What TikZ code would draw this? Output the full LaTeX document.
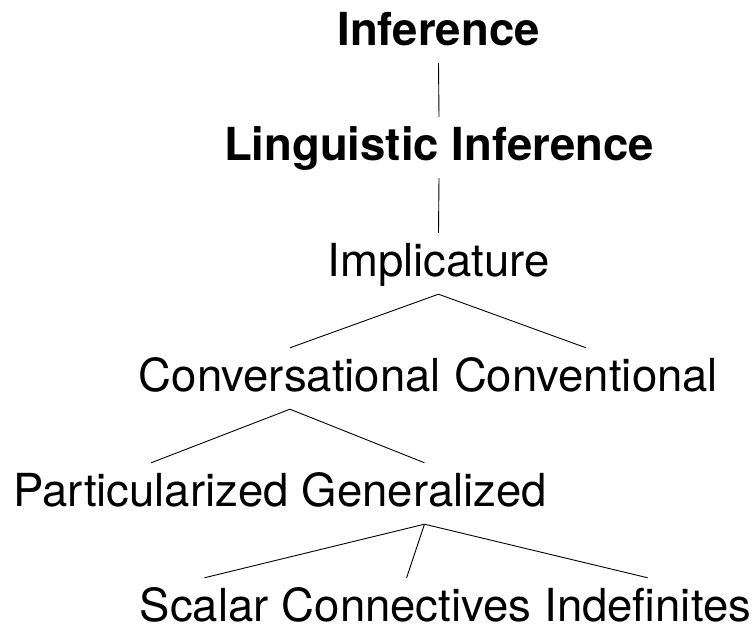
\documentclass[tikz,border=0pt]{standalone}
\usepackage{fontspec}
\setmainfont{TeX Gyre Heros}
\begin{document}
\begin{tikzpicture}[x=1pt,y=1pt,
  lbl/.style={inner xsep=0pt,inner ysep=0pt,text height=44pt,text depth=17pt,
    font=\fontsize{45.5}{50}\selectfont},
  lblb/.style={lbl,font=\fontsize{45.5}{50}\selectfont\bfseries},
  leaf/.style={lbl,text depth=0pt},
  edge/.style={draw=black,line width=0.9pt}]
\useasboundingbox (0,0) rectangle (756,626);
% rows
\node[lblb,anchor=base] (inf) at (438.5,580.3) {Inference};
\node[lblb,anchor=base] (ling) at (439,465) {Linguistic Inference};
\node[lbl,anchor=base] (impl) at (438.5,349) {Implicature};
\node[lbl,anchor=base west] (convs) at (138.7,234) {Conversational};
\node[lbl,anchor=base west] (convt) at ([xshift=12.65pt]convs.base east) {Conventional};
\node[lbl,anchor=base west] (part) at (13.1,119) {Particularized};
\node[lbl,anchor=base west] (gen) at ([xshift=12.65pt]part.base east) {Generalized};
\node[leaf,anchor=base west] (scal) at (139.7,4) {Scalar};
\node[leaf,anchor=base west] (conn) at ([xshift=12.65pt]scal.base east) {Connectives};
\node[leaf,anchor=base west] (indef) at ([xshift=12.65pt]conn.base east) {Indefinites};
% edges
\draw[edge] (inf.south) -- (ling.north);
\draw[edge] (ling.south) -- (impl.north);
\draw[edge] (impl.south) -- (convs.north);
\draw[edge] (impl.south) -- (convt.north);
\draw[edge] (convs.south) -- (part.north);
\draw[edge] (convs.south) -- (gen.north);
\draw[edge] (gen.south) -- (scal.north);
\draw[edge] (gen.south) -- (conn.north);
\draw[edge] (gen.south) -- (indef.north);
\end{tikzpicture}
\end{document}
